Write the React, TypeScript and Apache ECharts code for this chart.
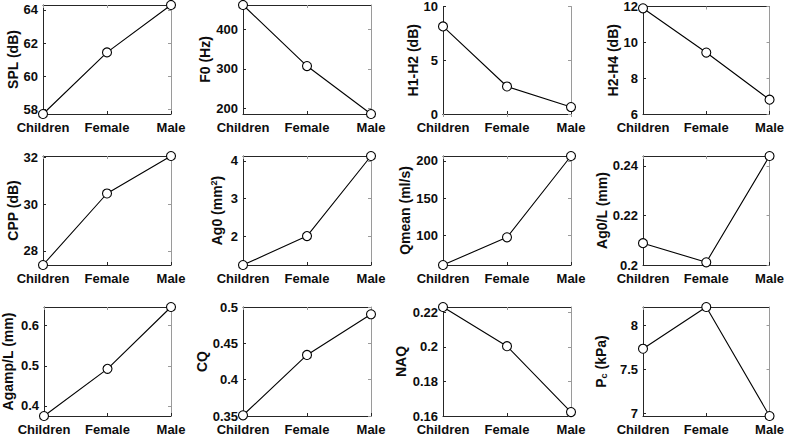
import React, { useEffect, useRef } from "react";
import * as echarts from "echarts";

const categories = ["Children", "Female", "Male"];

const splValues = [57.72, 61.44, 64.3];
const f0Values = [461, 307, 186];
const h1h2Values = [8.15, 2.56, 0.65];
const h2h4Values = [11.9, 9.43, 6.8];
const cppValues = [27.39, 30.46, 32.07];
const ag0Values = [1.23, 2.0, 4.13];
const qmeanValues = [59.6, 97, 206.7];
const ag0LValues = [0.2088, 0.2011, 0.244];
const agampLValues = [0.375, 0.4925, 0.6465];
const cqValues = [0.351, 0.434, 0.49];
const naqValues = [0.2231, 0.2004, 0.1623];
const pcValues = [7.737, 8.213, 6.97];

const splTicks = [58, 60, 62, 64];
const f0Ticks = [200, 300, 400];
const h1h2Ticks = [0, 5, 10];
const h2h4Ticks = [6, 8, 10, 12];
const cppTicks = [28, 30, 32];
const ag0Ticks = [2, 3, 4];
const qmeanTicks = [100, 150, 200];
const ag0LTicks = [0.2, 0.22, 0.24];
const agampLTicks = [0.4, 0.5, 0.6];
const cqTicks = [0.35, 0.4, 0.45, 0.5];
const naqTicks = [0.16, 0.18, 0.2, 0.22];
const pcTicks = [7, 7.5, 8];

const splRange = [57.72, 64.3];
const f0Range = [186, 461];
const h1h2Range = [0, 10];
const h2h4Range = [6, 12];
const cppRange = [27.39, 32.07];
const ag0Range = [1.23, 4.13];
const qmeanRange = [59.6, 206.7];
const ag0LRange = [0.2, 0.244];
const agampLRange = [0.375, 0.6465];
const cqRange = [0.35, 0.5];
const naqRange = [0.16, 0.2231];
const pcRange = [6.97, 8.213];

const yLabels = [
  "SPL (dB)",
  "F0 (Hz)",
  "H1-H2 (dB)",
  "H2-H4 (dB)",
  "CPP (dB)",
  "Ag0 (mm{sup|2})",
  "Qmean (ml/s)",
  "Ag0/L (mm)",
  "Agamp/L (mm)",
  "CQ",
  "NAQ",
  "P{sub|c} (kPa)",
];

const panelValues = [splValues, f0Values, h1h2Values, h2h4Values, cppValues, ag0Values, qmeanValues, ag0LValues, agampLValues, cqValues, naqValues, pcValues];
const panelTicks = [splTicks, f0Ticks, h1h2Ticks, h2h4Ticks, cppTicks, ag0Ticks, qmeanTicks, ag0LTicks, agampLTicks, cqTicks, naqTicks, pcTicks];
const panelRanges = [splRange, f0Range, h1h2Range, h2h4Range, cppRange, ag0Range, qmeanRange, ag0LRange, agampLRange, cqRange, naqRange, pcRange];

// layout / style
const colLeft = [43, 243, 443, 643];
const rowTop = [5, 156, 307];
const plotW = 128;
const plotH = 109;
const nameGaps = [22, 27, 14, 14, 22, 16, 30, 23, 29, 34, 35, 35];
const FONT = "Liberation Sans, Arial, Helvetica, sans-serif";
const DARK = "#262626";
const LIGHT = "#9a9a9a";

function fmt(v: number) {
  return String(Math.round(v * 10000) / 10000);
}

export default function App() {
  const ref = useRef<HTMLDivElement>(null);
  useEffect(() => {
    if (!ref.current) return;
    const chart = echarts.init(ref.current, null, { renderer: "svg" });
    const grid: any[] = [];
    const xAxis: any[] = [];
    const yAxis: any[] = [];
    const series: any[] = [];
    panelValues.forEach((vals, i) => {
      const c = i % 4;
      const r = Math.floor(i / 4);
      grid.push({ left: colLeft[c], top: rowTop[r], width: plotW, height: plotH, show: false });
      xAxis.push({
        type: "category",
        gridIndex: i,
        data: categories,
        boundaryGap: false,
        position: "bottom",
        axisLine: { lineStyle: { color: DARK, width: 1 } },
        axisTick: { inside: true, length: 3, lineStyle: { color: DARK } },
        axisLabel: {
          interval: 0,
          margin: 7,
          color: "#0d0d0d",
          fontFamily: FONT,
          fontWeight: "bold",
          fontSize: 13,
        },
        splitLine: { show: false },
      });
      xAxis.push({
        type: "category",
        gridIndex: i,
        data: categories,
        boundaryGap: false,
        position: "top",
        axisLine: { lineStyle: { color: DARK, width: 1 } },
        axisTick: { inside: true, length: 3, lineStyle: { color: LIGHT } },
        axisLabel: { show: false },
        splitLine: { show: false },
      });
      const [mn, mx] = panelRanges[i];
      yAxis.push({
        type: "value",
        gridIndex: i,
        position: "left",
        min: mn,
        max: mx,
        name: yLabels[i],
        nameLocation: "middle",
        nameRotate: 90,
        nameGap: nameGaps[i],
        nameTextStyle: {
          color: "#0d0d0d",
          fontFamily: FONT,
          fontWeight: "bold",
          fontSize: 14,
          rich: {
            sup: { fontSize: 9, fontWeight: "bold", fontFamily: FONT, color: "#0d0d0d", verticalAlign: "top", lineHeight: 9, padding: [0, 0, 8, 0] },
            sub: { fontSize: 9, fontWeight: "bold", fontFamily: FONT, color: "#0d0d0d", verticalAlign: "bottom", lineHeight: 9, padding: [6, 0, 0, 0] },
          },
        },
        axisLine: { show: true, lineStyle: { color: DARK, width: 1 } },
        axisTick: { show: true, inside: true, length: 3, customValues: panelTicks[i], lineStyle: { color: DARK } },
        axisLabel: {
          customValues: panelTicks[i],
          margin: 5,
          color: "#0d0d0d",
          fontFamily: FONT,
          fontWeight: "bold",
          fontSize: 13,
          formatter: (v: number) => fmt(v),
        },
        splitLine: { show: false },
      });
      yAxis.push({
        type: "value",
        gridIndex: i,
        position: "right",
        min: mn,
        max: mx,
        axisLine: { show: true, lineStyle: { color: LIGHT, width: 1 } },
        axisTick: { show: true, inside: true, length: 3, customValues: panelTicks[i], lineStyle: { color: LIGHT } },
        axisLabel: { show: false, customValues: panelTicks[i] },
        splitLine: { show: false },
      });
      series.push({
        type: "line",
        xAxisIndex: 2 * i,
        yAxisIndex: 2 * i,
        data: vals,
        symbol: "circle",
        symbolSize: 9,
        showSymbol: true,
        showAllSymbol: true,
        clip: false,
        z: 5,
        lineStyle: { color: "#000", width: 1.1 },
        itemStyle: { color: "#fff", borderColor: "#000", borderWidth: 1.1 },
        emphasis: { disabled: true },
      });
    });
    chart.setOption({
      animation: false,
      backgroundColor: "#fff",
      grid,
      xAxis,
      yAxis,
      series,
    });
    return () => chart.dispose();
  }, []);
  return (
    <div
      ref={ref}
      style={{ position: "fixed", left: 0, top: 0, width: 787, height: 436, background: "#fff" }}
    />
  );
}
